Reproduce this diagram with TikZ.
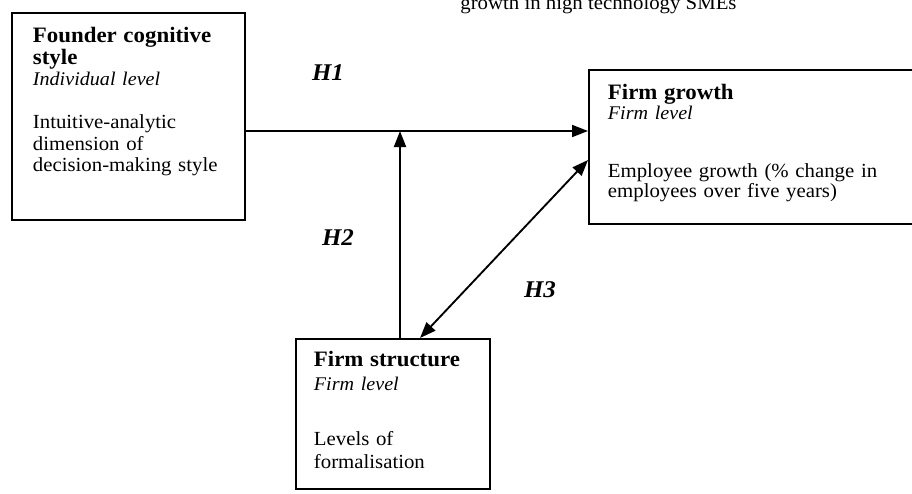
\documentclass[tikz,border=0pt]{standalone}
\usepackage{fontspec}
\setmainfont[FakeStretch=1.04]{Liberation Serif}
\usetikzlibrary{arrows.meta}

\tikzset{every picture/.style={line width=1.4pt}}
\tikzset{
	box/.style={draw, anchor=north west, align=left, text height=11pt},
	hyp/.style={font=\fontsize{18}{18}\selectfont\bfseries\itshape},
	arr/.style={-{Triangle[length=12pt,width=9pt]}},
	dblarr/.style={{Triangle[length=12pt,width=9pt]}-{Triangle[length=12pt,width=9pt]}}}
\newcommand{\boxhead}[1]{{\fontsize{16.5}{16.5}\selectfont\bfseries #1}}
\newcommand{\boxlevel}[1]{{\fontsize{14.5}{14.5}\selectfont\itshape #1}}

\begin{document}
\begin{tikzpicture}[x=0.75pt,y=0.75pt,yscale=-1,xscale=1]
	\useasboundingbox (0,0) rectangle (912,493);

	% Text Node (caption line, cut at the top)
	\node[anchor=base west, font=\fontsize{15}{15}\selectfont] (caption) at (455,9) {growth in high technology SMEs};

	%Shape: Rectangle [founder]
	\node[box, inner xsep=15.75pt, inner ysep=11.5pt, text width=143.25pt, text depth=121.25pt, font=\fontsize{15}{16.1}\selectfont] (founder) at (11,12) {\boxhead{Founder cognitive}\\ \boxhead{style}\\ \boxlevel{Individual level}\\[16.1pt] Intuitive-analytic\\ dimension of\\ decision-making style};
	%Shape: Rectangle [growth]
	\node[box, inner xsep=14.25pt, inner ysep=11.5pt, text width=228pt, text depth=81.5pt, font=\fontsize{15}{15}\selectfont] (growth) at (588,69) {\boxhead{Firm growth}\\ \boxlevel{Firm level}\\[28.5pt] Employee growth (\% change in\\ employees over five years)};
	%Shape: Rectangle [structure]
	\node[box, inner xsep=13.5pt, inner ysep=10pt, text width=118.5pt, text depth=81.5pt, font=\fontsize{15}{17.5}\selectfont] (structure) at (295,338) {\boxhead{Firm structure}\\ \boxlevel{Firm level}\\[24pt] Levels of\\ formalisation};

	\coordinate (h1) at (0,131);
	\coordinate (join) at (400,131);
	\coordinate (h3a) at (0,160);
	\coordinate (h3b) at (420,0);

	%Straight Lines [H1]
	\draw[arr] (founder.east |- h1) -- (growth.west |- h1);
	%Straight Lines [H2]
	\draw[arr] (join |- structure.north) -- (join);
	%Straight Lines [H3]
	\draw[dblarr] (growth.west |- h3a) -- (structure.north -| h3b);

	% Text Node
	\node[hyp] (hone) at (328,73) {H1};
	% Text Node
	\node[hyp] (htwo) at (338,238) {H2};
	% Text Node
	\node[hyp] (hthree) at (540,290) {H3};

\end{tikzpicture}
\end{document}
